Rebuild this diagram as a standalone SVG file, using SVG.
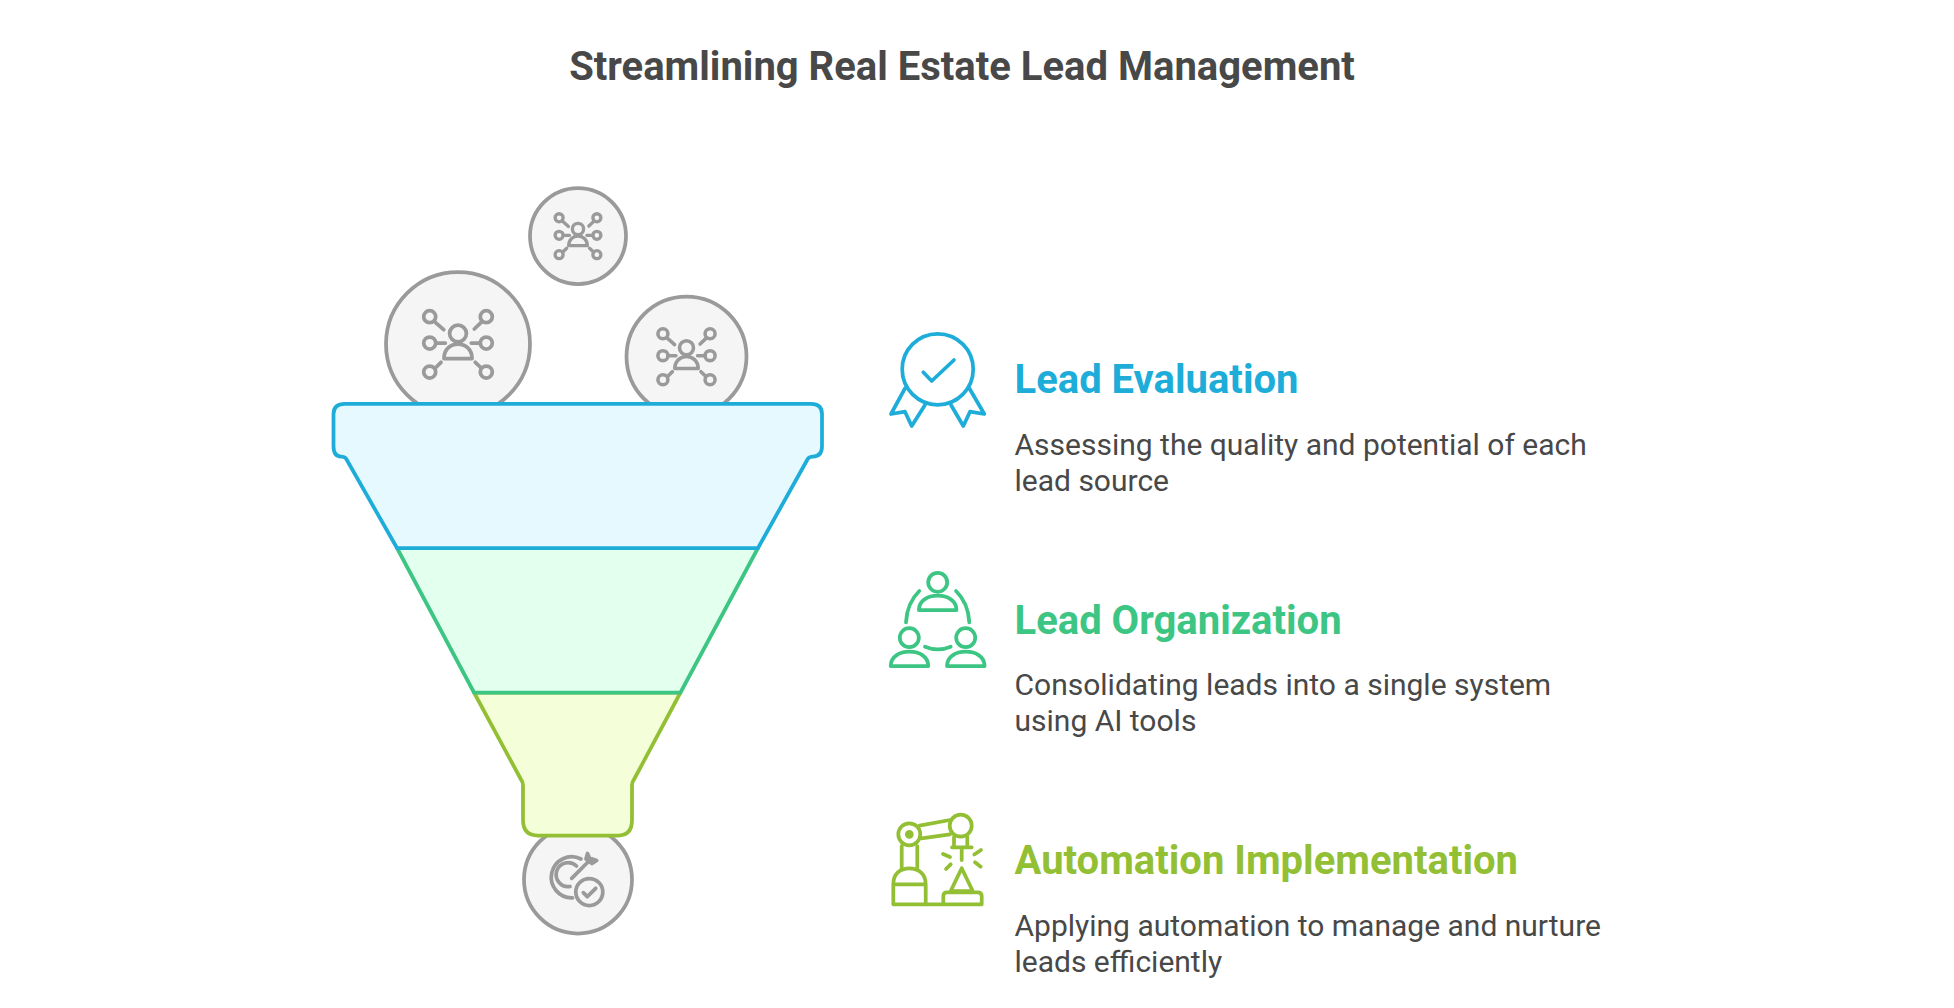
<svg xmlns="http://www.w3.org/2000/svg" width="1954" height="1008" viewBox="0 0 1954 1008">
<style>
text{font-family:Roboto,"Liberation Sans",sans-serif}
.title{font-size:40px;font-weight:700;fill:#484848}
.head{font-size:40px;font-weight:700}
.body{font-size:30px;fill:#484848}
.disc{fill:#f5f5f5;stroke:#9a9a9a;stroke-width:3.75}
.ic{fill:none;stroke:#9a9a9a;stroke-width:3.75;stroke-linecap:round;stroke-linejoin:round}
.blue{fill:none;stroke:#1eadd9;stroke-width:3.75;stroke-linecap:round;stroke-linejoin:round}
.green{fill:none;stroke:#3cc583;stroke-width:3.75;stroke-linecap:round;stroke-linejoin:round}
.lime{fill:none;stroke:#93bf35;stroke-width:3.75;stroke-linecap:round;stroke-linejoin:round}
</style>
<defs>
<g id="net">
<circle cx="-28.3" cy="-27.3" r="6"/><circle cx="28.3" cy="-27.3" r="6"/>
<circle cx="-28.3" cy="-1" r="6"/><circle cx="28.3" cy="-1" r="6"/>
<circle cx="-28.3" cy="28" r="6"/><circle cx="28.3" cy="28" r="6"/>
<circle cx="0" cy="-10.500" r="8.400"/>
<path d="M-14 14.500C-14 5-7 0 0 0C7 0 14 5 14 14.500Z"/>
<path d="M-22.700-21.700L-14.300-14.300M16.300-15L24-22.300M-22-1H-12.700M13.300-1H22.300M-22.700 24L-17 18.300M17.300 18.300L23.300 24"/>
</g>
<path id="person" d="M-18.800 14.300C-18.800 5-10 0 0 0C10 0 18.800 5 18.800 14.300Z"/>
</defs>
<text class="title" x="962" y="80" text-anchor="middle">Streamlining Real Estate Lead Management</text>
<g id="drop-top"><circle class="disc" cx="578" cy="236" r="48"/><use href="#net" class="ic" transform="translate(578 236) scale(.667)" style="stroke-width:5"/></g>
<g id="drop-left"><circle class="disc" cx="458" cy="344" r="72"/><use href="#net" class="ic" transform="translate(458 344)"/></g>
<g id="drop-right"><circle class="disc" cx="686.500" cy="356.500" r="60"/><use href="#net" class="ic" transform="translate(686.500 356.500) scale(.833)" style="stroke-width:4.300"/></g>
<g id="drop-bottom"><circle class="disc" cx="578" cy="879.500" r="54"/>
<g class="ic"><path d="M581 859A20.500 20.500 0 1 0 572.500 897.800"/><path d="M576.500 866A12 12 0 1 0 570 886.500"/><path d="M571.700 878.300L590 860"/><path d="M587.500 853.500L589.500 858L596.700 860.500L592 863.500L586 859Z" fill="#9a9a9a"/><circle cx="589.300" cy="892" r="13.500" fill="#f5f5f5"/><path d="M583.300 892.700L587.300 896.700L595.700 888.300"/></g></g>
<g id="funnel">
<g id="tier-3"><path d="M474 692.500H680.500L634 779.500Q632 782 632 785V820Q632 835.500 618 835.500H538Q523 835.500 523 820V785Q523 782 521 779.500Z" fill="#f4ffd9" stroke="#93bf35" stroke-width="3.750" stroke-linejoin="round"/></g>
<g id="tier-2"><path d="M397 548H758L680.500 692.500H474Z" fill="#e3ffee" stroke="#3cc583" stroke-width="3.750" stroke-linejoin="round"/></g>
<g id="tier-1"><path d="M346 458.500Q344.500 456.500 341 456.500Q333.500 456.500 333.500 446V414Q333.500 403.800 345 403.800H811Q822 403.800 822 414V446Q822 456.500 813 456.500Q809.500 456.500 808 458.500L758 548H397Z" fill="#e5f9ff" stroke="#1eadd9" stroke-width="3.750" stroke-linejoin="round"/></g>
</g>
<g id="step-1">
<g class="blue"><circle cx="937.700" cy="369.300" r="35.500"/><path d="M923.300 372.300L931.700 381L954 360"/><path d="M905 388.300L891 414L905 411.700L911.700 426L925 405"/><path d="M969.300 388.300L984.300 414L970 411.700L963.300 426L951 405"/></g>
<text class="head" x="1014.500" y="393" fill="#1eadd9">Lead Evaluation</text>
<text class="body" x="1014.500" y="455">Assessing the quality and potential of each</text>
<text class="body" x="1014.500" y="491">lead source</text>
</g>
<g id="step-2">
<g class="green"><circle cx="937.700" cy="582.300" r="9.500"/><use href="#person" transform="translate(937.700 595.700)"/><circle cx="909.300" cy="637.700" r="9.500"/><use href="#person" transform="translate(909.500 651.700)"/><circle cx="965.700" cy="637.700" r="9.500"/><use href="#person" transform="translate(965.800 651.700)"/><path d="M919.300 591Q907 603 906 622.300M956 591Q968.300 603 969.300 622.300M925 646.700Q938 652 950.700 646.700"/></g>
<text class="head" x="1014.500" y="633.500" fill="#3cc583">Lead Organization</text>
<text class="body" x="1014.500" y="695">Consolidating leads into a single system</text>
<text class="body" x="1014.500" y="731">using AI tools</text>
</g>
<g id="step-3">
<g class="lime"><circle cx="909.300" cy="834.300" r="11"/><circle cx="909.300" cy="834.300" r="2.500" fill="#93bf35"/><circle cx="960.700" cy="825.700" r="11"/><path d="M919.500 825.700L950 820M921.500 838.300L950 834.300"/><path d="M901.700 846V868.300M917.300 846V868.300"/><path d="M893.300 904.300V884.300C893.300 874 900 868.300 909.300 868.300C918.500 868.300 925.700 874 925.700 884.300V904.300ZM893.300 884.300H925.700"/><path d="M954 837V847.300M967.300 837V847.300M952 847.300H971.700M961.700 847.300V860"/><path d="M943 854L950 857M974.300 854.500L981 850M946 869L950.700 864.300M975 862.300L980.700 866.700"/><path d="M961.700 868.300L950.700 891H972.700Z"/><path d="M925.700 904.300H981.700M943.300 904.300V896Q943.300 892.300 947 892.300H977.700Q981.700 892.300 981.700 896V904.300"/></g>
<text class="head" x="1014.500" y="873.500" fill="#93bf35">Automation Implementation</text>
<text class="body" x="1014.500" y="935.500">Applying automation to manage and nurture</text>
<text class="body" x="1014.500" y="971.500">leads efficiently</text>
</g>
</svg>
